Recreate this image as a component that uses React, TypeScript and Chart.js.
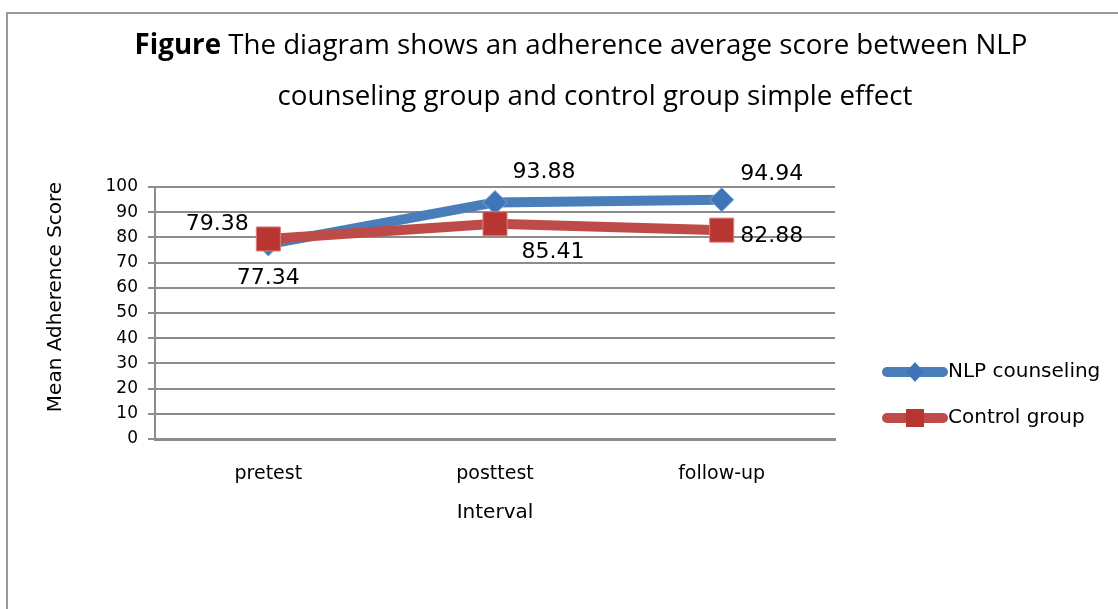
import React, { useEffect, useRef } from "react";
import { Chart, registerables } from "chart.js";

Chart.register(...registerables);

const categories = ["pretest", "posttest", "follow-up"];
const nlpValues = [77.34, 93.88, 94.94];
const controlValues = [79.38, 85.41, 82.88];
const seriesNames = ["NLP counseling", "Control group"];
const yMin = 0;
const yMax = 100;
const yStep = 10;

const titleLine1Bold = "Figure";
const titleLine1Rest = " The diagram shows an adherence average score between NLP";
const titleLine2 = "counseling group and control group simple effect";
const yTitle = "Mean Adherence Score";
const xTitle = "Interval";

const BLUE = "#4a7ebb";
const RED = "#be4b48";
const AXIS_FONT = "'DejaVu Sans', sans-serif";
const TITLE_FONT = "'Open Sans', sans-serif";

// label offsets (styling): [dataset][point] => [dx, dy]
const labelOffsets = [
  [[0, 34], [49, -30], [50, -25]],
  [[-51, -15], [58, 29], [50, 6]],
];

const framePlugin = {
  id: "frame",
  beforeDraw(chart: any) {
    const ctx = chart.ctx;
    ctx.save();
    ctx.strokeStyle = "#9a9a9a";
    ctx.lineWidth = 2;
    ctx.beginPath();
    ctx.moveTo(7, chart.height + 5);
    ctx.lineTo(7, 13);
    ctx.lineTo(chart.width + 5, 13);
    ctx.stroke();
    ctx.restore();
  },
};

const titlePlugin = {
  id: "figTitle",
  afterDraw(chart: any) {
    const ctx = chart.ctx;
    ctx.save();
    ctx.fillStyle = "#000";
    ctx.textBaseline = "middle";
    const target = 893;
    let size = 26;
    ctx.font = `bold ${size}px ${TITLE_FONT}`;
    let w = ctx.measureText(titleLine1Bold).width;
    ctx.font = `${size}px ${TITLE_FONT}`;
    w += ctx.measureText(titleLine1Rest).width;
    size = size * (target / w);
    ctx.font = `bold ${size}px ${TITLE_FONT}`;
    const wb = ctx.measureText(titleLine1Bold).width;
    ctx.font = `${size}px ${TITLE_FONT}`;
    const wr = ctx.measureText(titleLine1Rest).width;
    const x1 = 581 - (wb + wr) / 2;
    ctx.textAlign = "left";
    ctx.font = `bold ${size}px ${TITLE_FONT}`;
    ctx.fillText(titleLine1Bold, x1, 46);
    ctx.font = `${size}px ${TITLE_FONT}`;
    ctx.fillText(titleLine1Rest, x1 + wb, 46);
    ctx.textAlign = "center";
    ctx.fillText(titleLine2, 595, 97);
    // y axis title
    ctx.translate(56, 297);
    ctx.rotate(-Math.PI / 2);
    ctx.font = `20px ${AXIS_FONT}`;
    ctx.fillText(yTitle, 0, 0);
    ctx.restore();
  },
};

const labelPlugin = {
  id: "pointLabels",
  afterDatasetsDraw(chart: any) {
    const ctx = chart.ctx;
    ctx.save();
    ctx.font = `22px ${AXIS_FONT}`;
    ctx.fillStyle = "#000";
    ctx.textAlign = "center";
    ctx.textBaseline = "middle";
    chart.data.datasets.forEach((ds: any, i: number) => {
      const meta = chart.getDatasetMeta(i);
      meta.data.forEach((pt: any, j: number) => {
        const [dx, dy] = labelOffsets[i][j];
        ctx.fillText(ds.data[j].toFixed(2), pt.x + dx, pt.y + dy);
      });
    });
    ctx.restore();
  },
};

const legendPlugin = {
  id: "customLegend",
  afterDraw(chart: any) {
    const ctx = chart.ctx;
    const x0 = chart.chartArea.right + 52;
    const x1 = x0 + 56;
    const mx = (x0 + x1) / 2;
    const ys = [372, 418];
    ctx.save();
    chart.data.datasets.forEach((ds: any, i: number) => {
      const y = ys[i];
      ctx.strokeStyle = ds.borderColor;
      ctx.lineWidth = 10;
      ctx.lineCap = "round";
      ctx.beginPath();
      ctx.moveTo(x0, y);
      ctx.lineTo(x1, y);
      ctx.stroke();
      ctx.fillStyle = ds.pointBackgroundColor;
      ctx.beginPath();
      if (i === 0) {
        ctx.moveTo(mx, y - 10);
        ctx.lineTo(mx + 9, y);
        ctx.lineTo(mx, y + 10);
        ctx.lineTo(mx - 9, y);
        ctx.closePath();
      } else {
        ctx.rect(mx - 9, y - 9, 18, 18);
      }
      ctx.fill();
      ctx.fillStyle = "#000";
      ctx.font = `20px ${AXIS_FONT}`;
      ctx.textAlign = "left";
      ctx.textBaseline = "middle";
      ctx.fillText(ds.label, x1 + 5, y);
    });
    ctx.restore();
  },
};

export default function App() {
  const ref = useRef<HTMLCanvasElement | null>(null);
  useEffect(() => {
    if (!ref.current) return;
    const chart = new Chart(ref.current, {
      type: "line",
      data: {
        labels: categories,
        datasets: [
          {
            label: seriesNames[0],
            data: nlpValues,
            order: 1,
            borderColor: BLUE,
            backgroundColor: BLUE,
            borderWidth: 10,
            pointStyle: "rectRot",
            pointRadius: 12,
            pointBackgroundColor: "#3f74b8",
            pointBorderColor: "#7fa6d6",
            pointBorderWidth: 1,
            tension: 0,
          },
          {
            label: seriesNames[1],
            data: controlValues,
            order: 0,
            borderColor: RED,
            backgroundColor: RED,
            borderWidth: 10,
            pointStyle: "rect",
            pointRadius: 17,
            pointBackgroundColor: "#b83532",
            pointBorderColor: "#d9807d",
            pointBorderWidth: 1,
            tension: 0,
          },
        ],
      },
      options: {
        animation: false,
        responsive: false,
        devicePixelRatio: 1,
        layout: { padding: { left: 67, right: 283, top: 187, bottom: 80 } },
        plugins: {
          legend: { display: false },
          title: { display: false },
          tooltip: { enabled: false },
        },
        scales: {
          x: {
            type: "category",
            offset: true,
            grid: { display: false, drawTicks: false },
            border: { color: "#8c8c8c", width: 3 },
            ticks: { color: "#000", font: { size: 19, family: AXIS_FONT }, padding: 24 },
            title: {
              display: true,
              text: xTitle,
              color: "#000",
              font: { size: 20, family: AXIS_FONT },
              padding: { top: 0, bottom: 4 },
            },
            afterFit(scale: any) {
              scale.height = 90;
            },
          },
          y: {
            min: yMin,
            max: yMax,
            ticks: {
              stepSize: yStep,
              color: "#000",
              font: { size: 17, family: AXIS_FONT },
              padding: 10,
            },
            grid: { color: "#8c8c8c", lineWidth: 2, tickLength: 7 },
            border: { color: "#8c8c8c", width: 2 },
            title: { display: false },
            afterFit(scale: any) {
              scale.width = 88;
            },
          },
        },
      } as any,
      plugins: [framePlugin, titlePlugin, labelPlugin, legendPlugin],
    });
    return () => chart.destroy();
  }, []);
  return (
    <div style={{ position: "absolute", left: 0, top: 0, width: 1118, height: 609, background: "#fff" }}>
      <canvas ref={ref} width={1118} height={609} style={{ display: "block" }} />
    </div>
  );
}
